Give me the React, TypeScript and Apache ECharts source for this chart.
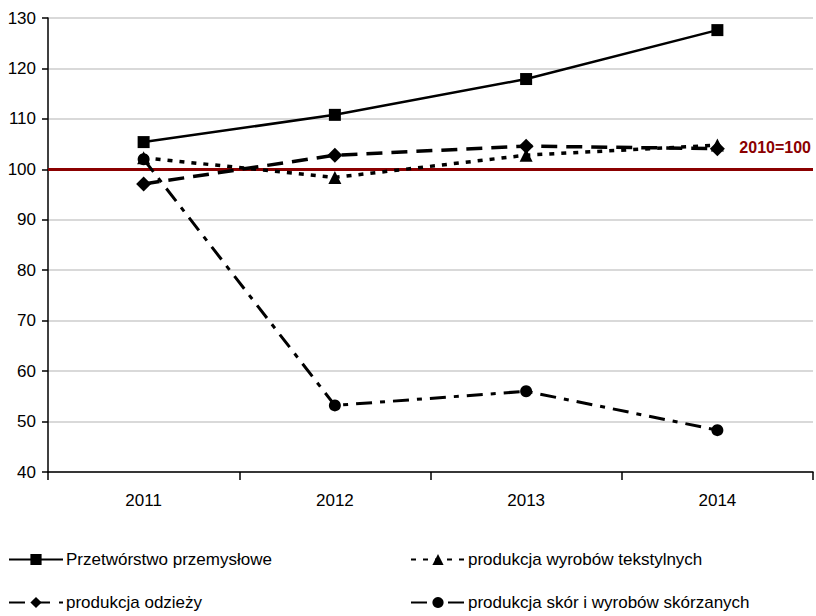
import React, { useEffect, useRef } from "react";
import * as echarts from "echarts";

const categories = ["2011", "2012", "2013", "2014"];
const przetworstwo = [105.4, 110.8, 117.9, 127.6];
const tekstylne = [102.3, 98.4, 102.8, 104.8];
const odziez = [97.1, 102.8, 104.6, 104.1];
const skory = [102.0, 53.2, 56.0, 48.3];
const baseline = 100;
const baselineLabel = "2010=100";

const names = [
  "Przetwórstwo przemysłowe",
  "produkcja wyrobów tekstylnych",
  "produkcja odzieży",
  "produkcja skór i wyrobów skórzanych",
];

const FONT = "'Liberation Sans', Arial, sans-serif";

export default function App() {
  const ref = useRef<HTMLDivElement>(null);
  useEffect(() => {
    if (!ref.current) return;
    const chart = echarts.init(ref.current, undefined, { renderer: "svg" });
    const legendBase = {
      itemWidth: 54,
      itemHeight: 14,
      itemGap: 4,
      textStyle: { fontFamily: FONT, fontSize: 17, color: "#000", padding: [0, 0, 0, -2] },
      padding: 0,
    };
    chart.setOption({
      animation: false,
      backgroundColor: "#fff",
      grid: { left: 48, right: 3, top: 18, bottom: 144, containLabel: false },
      xAxis: {
        type: "category",
        data: categories,
        boundaryGap: true,
        axisLine: { lineStyle: { color: "#000", width: 1.5 } },
        axisTick: { show: true, length: 8, lineStyle: { color: "#000", width: 1.5 } },
        axisLabel: { fontFamily: FONT, fontSize: 17, color: "#000", margin: 20 },
        splitLine: { show: false },
      },
      yAxis: {
        type: "value",
        min: 40,
        max: 130,
        interval: 10,
        axisLine: { show: true, lineStyle: { color: "#000", width: 1.5 } },
        axisTick: { show: true, length: 6, lineStyle: { color: "#000", width: 1.5 } },
        axisLabel: { fontFamily: FONT, fontSize: 17, color: "#000", margin: 12 },
        splitLine: { show: true, lineStyle: { color: "#cccccc", width: 1.5 } },
      },
      legend: [
        { ...legendBase, data: [names[0]], left: 8, top: 551 },
        { ...legendBase, data: [names[1]], left: 410, top: 551 },
        { ...legendBase, data: [names[2]], left: 8, top: 594 },
        { ...legendBase, data: [names[3]], left: 410, top: 594 },
      ],
      series: [
        {
          name: names[0],
          type: "line",
          data: przetworstwo,
          symbol: "rect",
          symbolSize: 12,
          itemStyle: { color: "#000" },
          lineStyle: { color: "#000", width: 2.5, type: "solid" },
          markLine: {
            silent: true,
            symbol: "none",
            data: [{ yAxis: baseline }],
            lineStyle: { color: "#8b0000", width: 3, type: "solid" },
            label: {
              show: true,
              position: "insideEndTop",
              formatter: baselineLabel,
              fontFamily: FONT,
              fontSize: 16,
              fontWeight: "bold",
              color: "#8b0000",
              distance: [2, 14],
            },
            z: 1,
          },
          z: 5,
        },
        {
          name: names[1],
          type: "line",
          data: tekstylne,
          symbol: "triangle",
          symbolSize: 13,
          itemStyle: { color: "#000" },
          lineStyle: { color: "#000", width: 3.5, type: [5, 7] },
          z: 4,
        },
        {
          name: names[2],
          type: "line",
          data: odziez,
          symbol: "diamond",
          symbolSize: 15,
          itemStyle: { color: "#000" },
          lineStyle: { color: "#000", width: 3.5, type: [16, 9] },
          z: 4,
        },
        {
          name: names[3],
          type: "line",
          data: skory,
          symbol: "circle",
          symbolSize: 12,
          itemStyle: { color: "#000" },
          lineStyle: { color: "#000", width: 3, type: [16, 8, 5, 8] },
          z: 4,
        },
      ],
    });
    return () => chart.dispose();
  }, []);
  return <div ref={ref} style={{ width: 816, height: 616, position: "absolute", left: 0, top: 0 }} />;
}
